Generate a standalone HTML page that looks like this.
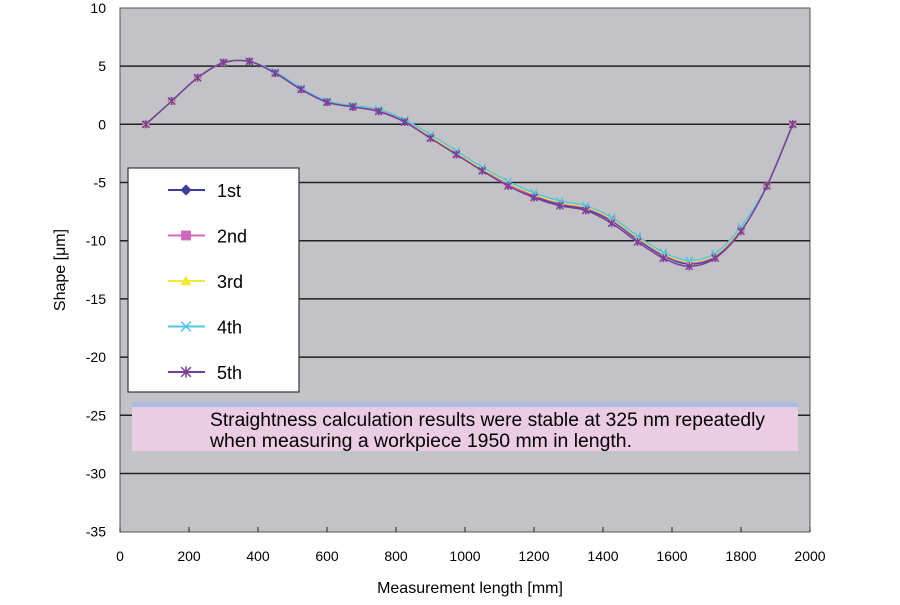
<!DOCTYPE html>
<html><head><meta charset="utf-8"><style>
body{margin:0;background:#fff;}
svg text{font-family:"Liberation Sans",sans-serif;}
</style></head><body>
<svg id="chart" width="900" height="600" xmlns="http://www.w3.org/2000/svg">
<rect x="120" y="8" width="690" height="524" fill="#c3c2c7" stroke="#555" stroke-width="1"/>
<g id="grid"></g><g id="axes"></g><g id="series"></g>
<g id="legend"></g>
<g>
<rect x="132" y="402" width="666" height="49" fill="#ebcde3"/>
<rect x="132" y="402" width="666" height="5" fill="#a9bde0"/>
<text x="210" y="426" font-size="19" textLength="555" lengthAdjust="spacingAndGlyphs">Straightness calculation results were stable at 325 nm repeatedly</text>
<text x="210" y="447" font-size="19" textLength="422" lengthAdjust="spacingAndGlyphs">when measuring a workpiece 1950 mm in length.</text>
</g>
<text x="470" y="593" font-size="16" text-anchor="middle">Measurement length [mm]</text>
<text transform="translate(65,270) rotate(-90)" font-size="16" text-anchor="middle">Shape [μm]</text>
</svg>
<script>
const xVals=[75,150,225,300,375,450,525,600,675,750,825,900,975,1050,1125,1200,1275,1350,1425,1500,1575,1650,1725,1800,1875,1950];
const s1=[0,2,4,5.3,5.4,4.4,3,1.9,1.5,1.2,0.3,-1.1,-2.5,-3.9,-5.2,-6.2,-6.9,-7.3,-8.3,-9.9,-11.3,-12.0,-11.4,-9.1,-5.3,0];
const s2=[0,2,4,5.3,5.4,4.4,3,1.9,1.5,1.2,0.3,-1.1,-2.5,-3.9,-5.2,-6.1,-6.8,-7.2,-8.2,-9.8,-11.2,-11.9,-11.3,-9.0,-5.3,0];
const s3=[0,2,4,5.3,5.4,4.5,3.1,2.0,1.6,1.3,0.4,-1.0,-2.4,-3.8,-5.0,-6.0,-6.7,-7.1,-8.1,-9.7,-11.1,-11.8,-11.2,-8.9,-5.3,0];
const s4=[0,2,4,5.3,5.4,4.5,3.1,2.0,1.6,1.3,0.4,-0.9,-2.3,-3.7,-4.9,-5.9,-6.6,-7.0,-8.0,-9.6,-11.0,-11.7,-11.1,-8.8,-5.3,0];
const s5=[0,2,4,5.3,5.4,4.4,3,1.9,1.5,1.1,0.2,-1.2,-2.6,-4.0,-5.3,-6.3,-7.0,-7.4,-8.5,-10.1,-11.5,-12.2,-11.5,-9.2,-5.3,0];
const seriesNames=["1st","2nd","3rd","4th","5th"];
const seriesColors=["#3a3f99","#d067b8","#f2ea3a","#4fc6e8","#7a3f98"];
const xTicks=[0,200,400,600,800,1000,1200,1400,1600,1800,2000];
const yTicks=[10,5,0,-5,-10,-15,-20,-25,-30,-35];
const X=v=>120+v*690/2000, Y=v=>124.3-v*58.2/5;
const NS="http://www.w3.org/2000/svg";
function mk(p,tag,at){const e=document.createElementNS(NS,tag);for(const k in at)e.setAttribute(k,at[k]);p.appendChild(e);return e;}
const grid=document.getElementById('grid'),axes=document.getElementById('axes');
yTicks.forEach(t=>{
 if(t<10&&t>-35){const l=mk(grid,'line',{x1:120,x2:810,y1:Y(t),y2:Y(t),stroke:'#222','stroke-width':1.5});
 
 }
 const tx=mk(axes,'text',{x:106,y:Y(t)+5,'font-size':14,'text-anchor':'end'});tx.textContent=t;
 
 
});
xTicks.forEach(t=>{
 mk(axes,'line',{x1:X(t),x2:X(t),y1:532,y2:527,stroke:'#222'});
 const tx=mk(axes,'text',{x:X(t),y:561,'font-size':14,'text-anchor':'middle'});tx.textContent=t;
 
 
});
function smooth(pts){let d=`M${pts[0][0]},${pts[0][1]}`;
 for(let i=0;i<pts.length-1;i++){const p0=pts[Math.max(0,i-1)],p1=pts[i],p2=pts[i+1],p3=pts[Math.min(pts.length-1,i+2)];
 d+=` C${p1[0]+(p2[0]-p0[0])/6},${p1[1]+(p2[1]-p0[1])/6} ${p2[0]-(p3[0]-p1[0])/6},${p2[1]-(p3[1]-p1[1])/6} ${p2[0]},${p2[1]}`;}return d;}
function marker(g,i,x,y,c,s){s=s||1;
 if(i==0)mk(g,'path',{d:`M${x},${y-4*s}L${x+4*s},${y}L${x},${y+4*s}L${x-4*s},${y}Z`,fill:c});
 else if(i==1)mk(g,'rect',{x:x-3.5*s,y:y-3.5*s,width:7*s,height:7*s,fill:c});
 else if(i==2)mk(g,'path',{d:`M${x},${y-4*s}L${x+4*s},${y+3*s}L${x-4*s},${y+3*s}Z`,fill:c});
 else if(i==3)mk(g,'path',{d:`M${x-3.5*s},${y-3.5*s}L${x+3.5*s},${y+3.5*s}M${x+3.5*s},${y-3.5*s}L${x-3.5*s},${y+3.5*s}`,stroke:c,'stroke-width':1.5});
 else mk(g,'path',{d:`M${x-3.5*s},${y-3.5*s}L${x+3.5*s},${y+3.5*s}M${x+3.5*s},${y-3.5*s}L${x-3.5*s},${y+3.5*s}M${x},${y-4*s}L${x},${y+4*s}`,stroke:c,'stroke-width':1.5});
}
const sg=document.getElementById('series');
[s1,s2,s3,s4,s5].forEach((s,i)=>{
 const g=mk(sg,'g',{});
 
 
 const pts=s.map((v,j)=>[X(xVals[j]),Y(v)]);
 mk(g,'path',{d:smooth(pts),fill:'none',stroke:seriesColors[i],'stroke-width':1.5});
 pts.forEach(p=>marker(g,i,p[0],p[1],seriesColors[i]));
});
const lg=document.getElementById('legend');
mk(lg,'rect',{x:128,y:168,width:171,height:224,fill:'#fff',stroke:'#333','stroke-width':1.2});
seriesNames.forEach((n,i)=>{
 const y=190+i*45.5;
 const g=mk(lg,'g',{});
 
 
 mk(g,'line',{x1:168,x2:205,y1:y,y2:y,stroke:seriesColors[i],'stroke-width':2});
 marker(g,i,186,y,seriesColors[i],1.4);
 const t=mk(g,'text',{x:217,y:y+7,'font-size':18});t.textContent=n;
});
</script>
</body></html>
